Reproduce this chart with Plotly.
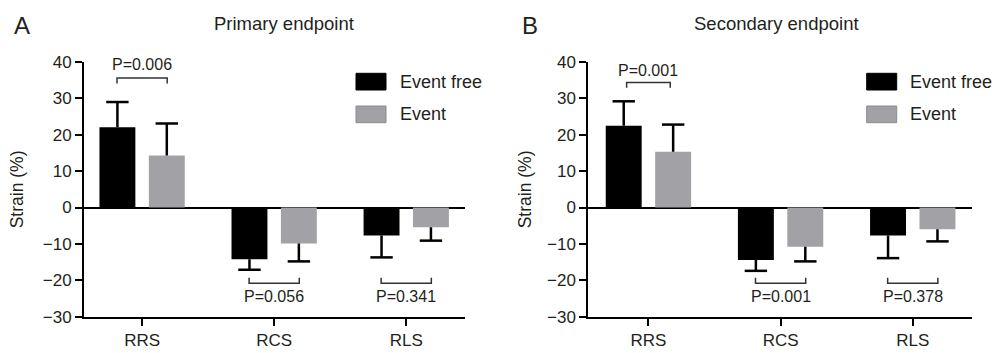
import plotly.graph_objects as go

# ---------------- data ----------------
categories = ["RRS", "RCS", "RLS"]
y_ticks = [-30, -20, -10, 0, 10, 20, 30, 40]

a_free = [22.1, -14.2, -7.7]
a_free_sd = [6.9, 2.9, 6.0]
a_event = [14.3, -9.9, -5.4]
a_event_sd = [8.8, 4.9, 3.7]
a_pvals = ["P=0.006", "P=0.056", "P=0.341"]
a_bracket_y = [35.6, -20.8, -20.8]
a_ptext_y = [39.3, -24.4, -24.4]

b_free = [22.5, -14.4, -7.7]
b_free_sd = [6.7, 3.0, 6.2]
b_event = [15.3, -10.8, -6.0]
b_event_sd = [7.5, 4.0, 3.3]
b_pvals = ["P=0.001", "P=0.001", "P=0.378"]
b_bracket_y = [34.4, -20.8, -20.8]
b_ptext_y = [37.7, -24.4, -24.4]

series_names = ["Event free", "Event"]
panel_titles = ["Primary endpoint", "Secondary endpoint"]
panel_letters = ["A", "B"]

# ---------------- style ----------------
W, H = 995, 353
FONT = "Liberation Sans, Arial, Helvetica, sans-serif"
TXT = "#231f20"
COLORS = ["#000000", "#a2a2a6"]
BAR_W = 0.272
CENTER_OFF = [-0.187, 0.187]
ERR_T = 2.5


def px(x):
    return x / W


def py(y):
    return 1 - y / H


panels = [
    dict(free=a_free, free_sd=a_free_sd, ev=a_event, ev_sd=a_event_sd, pv=a_pvals,
         by=a_bracket_y, ty=a_ptext_y, xd=(84, 465), xr=(-0.44, 2.445),
         half=[0.19, 0.19, 0.19], title_x=284, letter_x=22, ytitle_x=17,
         leg_x=356, leg_tx=398),
    dict(free=b_free, free_sd=b_free_sd, ev=b_event, ev_sd=b_event_sd, pv=b_pvals,
         by=b_bracket_y, ty=b_ptext_y, xd=(588.3, 971.7), xr=(-0.455, 2.446),
         half=[0.165, 0.19, 0.19], title_x=776, letter_x=530, ytitle_x=525,
         leg_x=866.7, leg_tx=908.3),
]

y_dom = (py(316.7), py(62))

fig = go.Figure()
shapes = []
annotations = []
idx = list(range(len(categories)))

for p, P in enumerate(panels):
    xa = "x" if p == 0 else "x2"
    ya = "y" if p == 0 else "y2"
    vals_list = [(P["free"], P["free_sd"]), (P["ev"], P["ev_sd"])]
    for s, (vals, sds) in enumerate(vals_list):
        plus = [e if v >= 0 else 0 for v, e in zip(vals, sds)]
        minus = [e if v < 0 else 0 for v, e in zip(vals, sds)]
        fig.add_trace(go.Bar(
            x=idx, y=vals, xaxis=xa, yaxis=ya, name=series_names[s],
            width=BAR_W, offset=CENTER_OFF[s] - BAR_W / 2,
            marker=dict(color=COLORS[s], line=dict(width=0)),
            error_y=dict(type="data", symmetric=False, array=plus, arrayminus=minus,
                         color="#000000", thickness=ERR_T, width=0),
            showlegend=False,
        ))
        # caps at whisker tips
        tips = [v + e if v >= 0 else v - e for v, e in zip(vals, sds)]
        fig.add_trace(go.Scatter(
            x=[i + CENTER_OFF[s] for i in idx], y=tips, xaxis=xa, yaxis=ya,
            mode="markers", cliponaxis=False,
            marker=dict(symbol="line-ew", size=16, color="#000000",
                        line=dict(width=ERR_T, color="#000000")),
            showlegend=False, hoverinfo="skip",
        ))

    # significance brackets
    for i in idx:
        yb = P["by"][i]
        up = yb > 0
        tick = -1.5 if up else 1.5
        x0 = i - P["half"][i]
        x1 = i + P["half"][i]
        shapes.append(dict(
            type="path", xref=xa, yref=ya,
            path=f"M {x0},{yb + tick} L {x0},{yb} L {x1},{yb} L {x1},{yb + tick}",
            line=dict(color="#333333", width=1.5),
        ))
        annotations.append(dict(
            x=i, y=P["ty"][i], xref=xa, yref=ya, text=P["pv"][i], showarrow=False,
            xanchor="center", yanchor="middle",
            font=dict(family=FONT, size=16, color=TXT),
        ))

    # panel title, letter, y title
    annotations.append(dict(x=px(P["title_x"]), y=py(23), xref="paper", yref="paper",
                            text=panel_titles[p], showarrow=False, xanchor="center",
                            yanchor="middle", font=dict(family=FONT, size=18.5, color=TXT)))
    annotations.append(dict(x=px(P["letter_x"]), y=py(25), xref="paper", yref="paper",
                            text=panel_letters[p], showarrow=False, xanchor="center",
                            yanchor="middle", font=dict(family=FONT, size=24, color=TXT)))
    annotations.append(dict(x=px(P["ytitle_x"]), y=py(189.3), xref="paper", yref="paper",
                            text="Strain (%)", textangle=-90, showarrow=False,
                            xanchor="center", yanchor="middle",
                            font=dict(family=FONT, size=17.5, color=TXT)))

    # legend
    for s in range(2):
        top = 73.3 + s * 32.7
        shapes.append(dict(type="rect", xref="paper", yref="paper",
                           x0=px(P["leg_x"]), x1=px(P["leg_x"] + 30),
                           y0=py(top + 16.7), y1=py(top),
                           fillcolor=COLORS[s],
                           line=dict(color="#8a8a8e" if s == 1 else "#000000", width=1)))
        annotations.append(dict(x=px(P["leg_tx"]), y=py(top + 8.4), xref="paper", yref="paper",
                                text=series_names[s], showarrow=False, xanchor="left",
                                yanchor="middle", font=dict(family=FONT, size=18, color=TXT)))

    axis_common = dict(showline=True, linecolor="#000000", linewidth=2, ticks="outside",
                       ticklen=7, tickwidth=2, tickcolor="#000000", showgrid=False,
                       automargin=False,
                       tickfont=dict(family=FONT, size=17, color=TXT))
    xkey = "xaxis" if p == 0 else "xaxis2"
    ykey = "yaxis" if p == 0 else "yaxis2"
    fig.update_layout(**{
        xkey: dict(domain=[px(P["xd"][0]), px(P["xd"][1])], range=list(P["xr"]),
                   tickmode="array", tickvals=idx, ticktext=categories, zeroline=False,
                   anchor=ya, **axis_common),
        ykey: dict(domain=list(y_dom), range=[-30, 40], tickmode="array",
                   tickvals=y_ticks, zeroline=True, zerolinecolor="#000000",
                   zerolinewidth=2, anchor=xa, **axis_common),
    })

fig.update_layout(
    width=W, height=H, margin=dict(l=0, r=0, t=0, b=0, pad=0, autoexpand=False),
    paper_bgcolor="white", plot_bgcolor="white",
    barmode="overlay", showlegend=False,
    shapes=shapes, annotations=annotations,
)

page_fix = (
    "document.documentElement.style.margin='0';"
    "document.documentElement.style.padding='0';"
    "document.documentElement.style.overflow='hidden';"
    "document.body.style.margin='0';"
    "document.body.style.padding='0';"
    "document.body.style.overflow='hidden';"
    "var gd=document.getElementById('{plot_id}');"
    "gd.style.position='absolute';gd.style.left='0px';gd.style.top='0px';"
)

fig.write_html("out.html", post_script=page_fix, config={"displayModeBar": False})
